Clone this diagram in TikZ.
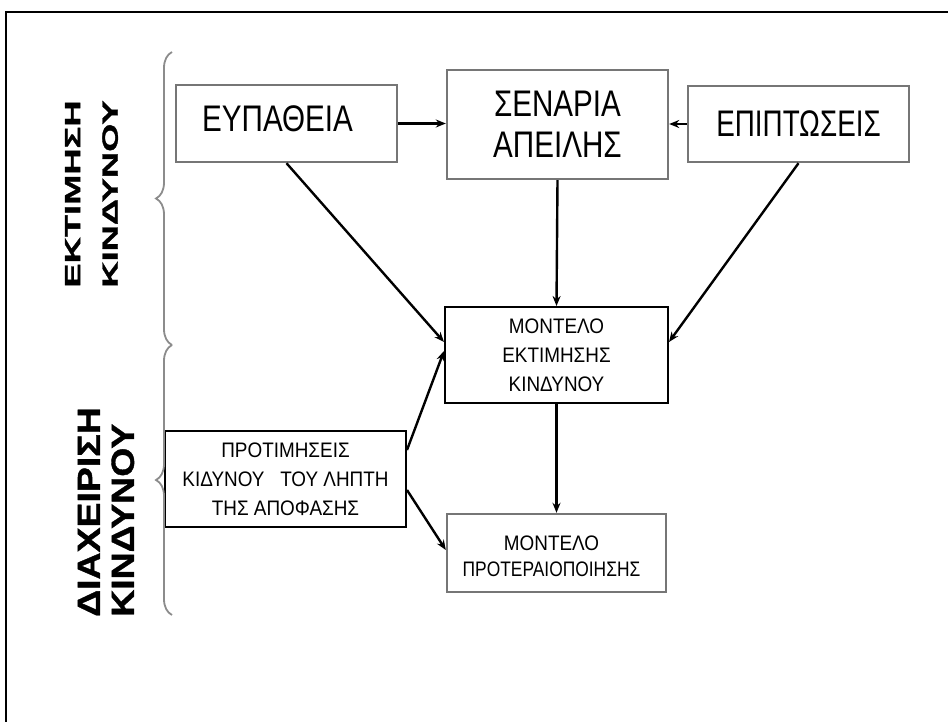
\documentclass[tikz,border=0pt]{standalone}
\usepackage{fontspec}
\setmainfont{Liberation Sans}
\newfontfamily\bigf[FakeStretch=0.8]{Liberation Sans}
\newfontfamily\smallf[FakeStretch=0.9]{Liberation Sans}
\newfontfamily\labaf[FakeStretch=1.65,FakeBold=1.5]{Liberation Sans Bold}
\newfontfamily\labbf[FakeStretch=1.17,FakeBold=1.2]{Liberation Sans Bold}
\usetikzlibrary{arrows.meta,decorations.pathreplacing}
\definecolor{boxgray}{HTML}{767676}
\definecolor{bracegray}{HTML}{8C8C8C}
\begin{document}
\begin{tikzpicture}[x=1pt,y=-1pt,
  graybox/.style={draw=boxgray, line width=2.4pt, rectangle, inner sep=0pt},
  blackbox/.style={draw=black, line width=2pt, rectangle, inner sep=0pt},
  bigtxt/.style={font=\bigf\fontsize{37}{41}\selectfont, align=center, inner sep=0pt},
  smalltxt/.style={font=\smallf\fontsize{21}{29}\selectfont, align=center, inner sep=0pt},
  arr/.style={-{Stealth[length=10pt,width=8pt]}, line width=2.4pt},
  bracestyle/.style={draw=bracegray, line width=1.8pt, decorate, decoration={brace, amplitude=16pt}},
]
\useasboundingbox (0,0) rectangle (948,722);
\draw[line width=2.4pt] (948,12) -- (6,12) -- (6,722);

% boxes
\node[graybox, minimum width=221pt, minimum height=77pt] (eup) at (286.5,123.5) {};
\node[bigtxt, anchor=base] (eupt) at (277.5,132) {ΕΥΠΑΘΕΙΑ};
\node[graybox, bigtxt, minimum width=221pt, minimum height=109pt] (sen) at (557.5,124.5) {ΣΕΝΑΡΙΑ\\ΑΠΕΙΛΗΣ};
\node[graybox, bigtxt, minimum width=221pt, minimum height=76pt] (epi) at (798.5,124) {\scalebox{0.94}[1]{ΕΠΙΠΤΩΣΕΙΣ}};
\node[blackbox, smalltxt, minimum width=223pt, minimum height=96pt] (mek) at (556.5,355) {ΜΟΝΤΕΛΟ\\ΕΚΤΙΜΗΣΗΣ\\ΚΙΝΔΥΝΟΥ};
\node[blackbox, smalltxt, minimum width=241pt, minimum height=96pt] (pro) at (285.5,479) {ΠΡΟΤΙΜΗΣΕΙΣ\\ΚΙΔΥΝΟΥ\ \ \ ΤΟΥ ΛΗΠΤΗ\\ΤΗΣ ΑΠΟΦΑΣΗΣ};
\node[graybox, minimum width=219pt, minimum height=78pt] (prt) at (556.5,553) {};
\node[smalltxt, font=\smallf\fontsize{21}{26}\selectfont] (prtt) at (551.5,556.5) {ΜΟΝΤΕΛΟ\\\scalebox{0.92}[1]{ΠΡΟΤΕΡΑΙΟΠΟΙΗΣΗΣ}};

% side labels
\node[rotate=90, font=\labaf\fontsize{22}{37.5}\selectfont, align=center, inner sep=0pt] (lab1) at (91.5,194) {ΕΚΤΙΜΗΣΗ\\ΚΙΝΔΥΝΟΥ};
\node[rotate=90, anchor=west, font=\labbf\fontsize{32}{34}\selectfont, align=left, inner sep=0pt] (lab2) at (106,617) {ΔΙΑΧΕΙΡΙΣΗ\\ΚΙΝΔΥΝΟΥ};

% braces
\coordinate (b1s) at (172,345);
\coordinate (b1e) at (172,52);
\coordinate (b2s) at (172,615);
\coordinate (b2e) at (172,345);
\draw[bracestyle] (b1s) -- (b1e);
\draw[bracestyle] (b2s) -- (b2e);

% arrows
\draw[arr] (eup.east) -- (eup.east -| sen.west);
\draw[arr] (epi.west) -- (epi.west -| sen.east);
\draw[arr] (sen.south) -- (mek.north);
\draw[arr] (eup.south) -- ([yshift=13pt]mek.west);
\draw[arr] (epi.south) -- ([yshift=13pt]mek.east);
\draw[arr] ([yshift=29pt]pro.east) -- ([yshift=4pt]mek.west);
\draw[arr] (mek.south) -- (prt.north);
\draw[arr] ([yshift=-11pt]pro.east) -- ([yshift=3pt]prt.west);
\end{tikzpicture}
\end{document}
